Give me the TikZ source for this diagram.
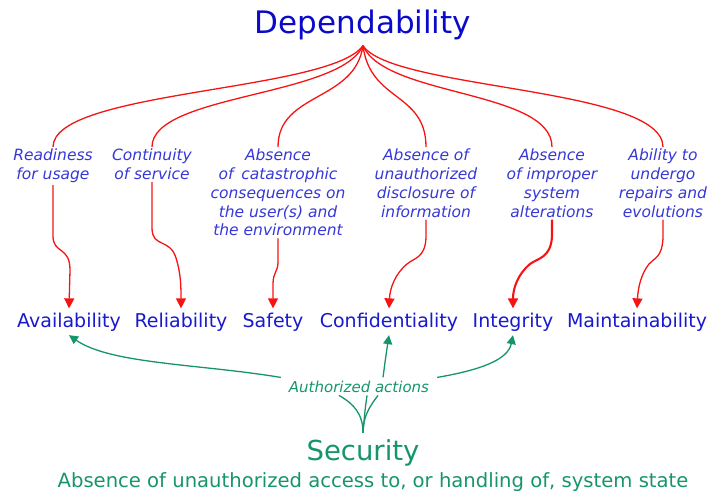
\documentclass[tikz,border=0pt]{standalone}
\usepackage{fontspec}
\setmainfont{DejaVu Sans}
\usetikzlibrary{arrows.meta}

\definecolor{depblue}{RGB}{10,10,200}
\definecolor{attrblue}{RGB}{25,25,205}
\definecolor{descblue}{RGB}{55,55,215}
\definecolor{linkred}{RGB}{245,20,20}
\definecolor{secgreen}{RGB}{22,150,104}

\tikzset{
  headword/.style={anchor=base, inner sep=6pt},
  desc/.style={font=\fontsize{15.5}{18.75}\selectfont\itshape, text=descblue,
    align=center, inner sep=2pt, anchor=north},
  attr/.style={font=\fontsize{19}{22}\selectfont, text=attrblue, anchor=base, inner sep=4pt},
  branch/.style={draw=linkred, line width=1.3pt},
  link/.style={draw=linkred, line width=1.3pt, -{Triangle[width=10pt,length=10pt]}},
  boldlink/.style={link, line width=2.1pt},
  grant/.style={draw=secgreen, line width=1.3pt, -{Triangle[width=9pt,length=9pt]}},
  fork/.style={draw=secgreen, line width=1.3pt},
}

\begin{document}
\begin{tikzpicture}[x=1pt,y=-1pt]
\useasboundingbox (0,0) rectangle (710,493);

% root concept
\node[headword, font=\fontsize{31}{36}\selectfont, text=depblue] (dep) at (363,33) {Dependability};

% meanings of each attribute
\node[desc] (rd) at (53,147) {Readiness\\for usage};
\node[desc] (ct) at (152,147) {Continuity\\of service};
\node[desc] (ab) at (278,147) {Absence\\of\enspace catastrophic\\consequences on\\the user(s) and\\the environment};
\node[desc] (ud) at (426,147) {Absence of\\unauthorized\\disclosure of\\information};
\node[desc] (ip) at (552,147) {Absence\\of improper\\system\\alterations};
\node[desc] (rp) at (663,147) {Ability to\\undergo\\repairs and\\evolutions};

% attributes
\node[attr] (avail) at (69,327) {Availability};
\node[attr] (rel) at (181,327) {Reliability};
\node[attr] (safe) at (273,327) {Safety};
\node[attr] (conf) at (389,327) {Confidentiality};
\node[attr] (integ) at (513,327) {Integrity};
\node[attr] (maint) at (637,327) {Maintainability};

% security
\node[font=\fontsize{15}{18}\selectfont\itshape, text=secgreen, anchor=base, inner sep=3pt] (auth) at (359,392) {Authorized actions};
\node[headword, font=\fontsize{27.5}{32}\selectfont, text=secgreen] (sec) at (363,460) {Security};
\node[font=\fontsize{19.6}{23}\selectfont, text=secgreen, anchor=base, inner sep=2pt] (state) at (373,487) {Absence of unauthorized access to, or handling of, system state};

% branches from the root to the meanings
\draw[branch] (dep.south) .. controls (330,92) and (53,90) .. (rd.north);
\draw[branch] (dep.south) .. controls (340,97) and (152,94) .. (ct.north);
\draw[branch] (dep.south) .. controls (355,102) and (278,92) .. (ab.north);
\draw[branch] (dep.south) .. controls (370,102) and (426,92) .. (ud.north);
\draw[branch] (dep.south) .. controls (385,97) and (552,90) .. (ip.north);
\draw[branch] (dep.south) .. controls (392,90) and (663,87) .. (rp.north);

% meanings down to attributes
\draw[link] (rd.south) -- (53,236) .. controls (53,254) and (70,246) .. (70,270) -- (avail.north);
\draw[link] (ct.south) -- (152,228) .. controls (152,248) and (170,238) .. (176,258) .. controls (181,274) and (181,287) .. (rel.north);
\draw[link] (ab.south) -- (278,262) .. controls (278,272) and (273,272) .. (273,284) -- (safe.north);
\draw[link] (ud.south) -- (426,238) .. controls (425,258) and (414,258) .. (407,264) .. controls (395,274) and (390,288) .. (conf.north);
\draw[boldlink] (ip.south) -- (552,236) .. controls (551,258) and (538,258) .. (530,264) .. controls (518,274) and (513,288) .. (integ.north);
\draw[link] (rp.south) -- (663,238) .. controls (662,258) and (654,258) .. (649,264) .. controls (641,274) and (638,288) .. (maint.north);

% authorized actions reaching the attributes
\draw[grant] ([xshift=-5pt]auth.north west) .. controls (200,364) and (110,364) .. (avail.south);
\draw[grant] ([xshift=24pt]auth.north) .. controls (386,355) .. (conf.south);
\draw[grant] ([xshift=5pt]auth.north east) .. controls (480,370) and (508,360) .. (integ.south);

% security gathering its actions
\draw[fork] ([xshift=-20pt]auth.south) .. controls (354,404) and (363,414) .. (sec.north);
\draw[fork] ([xshift=8pt]auth.south) .. controls (365,410) .. (sec.north);
\draw[fork] ([xshift=19pt]auth.south) .. controls (370,406) and (363,416) .. (sec.north);
\end{tikzpicture}
\end{document}
